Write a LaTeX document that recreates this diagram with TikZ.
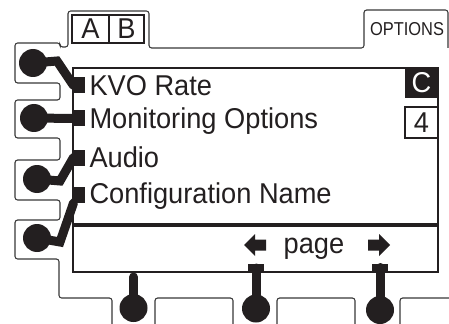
\documentclass[tikz,border=0pt]{standalone}
\usepackage{fontspec}
\setmainfont{Liberation Sans}
\newfontfamily\narrowsans{Liberation Sans}[FakeStretch=0.95]
\newfontfamily\tabsans{Liberation Sans}[FakeStretch=0.88]
\usetikzlibrary{positioning}
\definecolor{ink}{RGB}{35,31,32}
\definecolor{rim}{RGB}{55,55,55}
\tikzset{every picture/.style={line width=0.75pt}}
\tikzset{
  rim/.style={draw=rim, line width=0.8pt, rounded corners=2pt},
  knob/.style={circle, fill=ink, inner sep=0pt, minimum size=21pt},
  pad/.style={fill=ink, inner sep=0pt, minimum width=8.25pt, minimum height=12pt},
  bar/.style={fill=ink, inner sep=0pt, minimum width=12pt, minimum height=6pt},
  arm/.style={draw=ink, line width=6.75pt, line cap=round},
  txt/.style={font=\narrowsans\fontsize{21.5}{25}\selectfont, text=ink, inner sep=0pt},
  smalltxt/.style={font=\tabsans\fontsize{14}{16}\selectfont, text=ink, inner sep=0pt}
}

\begin{document}
\begin{tikzpicture}[x=0.75pt,y=0.75pt,yscale=-1,xscale=1]
\useasboundingbox (0,0) rectangle (449,324);

%Shape: Bezel outline with tabs
\draw[rim] (448,48) -- (448,10) -- (364,10) -- (364,48) -- (149,48) -- (149,11) -- (68,11) -- (68,47) -- (60,47) -- (60,43) -- (15,43) -- (15,83) -- (60,83) -- (60,100) -- (15,100) -- (15,138) -- (60,138) -- (60,160) -- (15,160) -- (15,200) -- (60,200) -- (60,220) -- (15,220) -- (15,259) -- (59,259) -- (59,298) -- (112,298) -- (112,324) ;
\draw[rim] (155,324) -- (155,298) -- (233,298) -- (233,324) ;
\draw[rim] (277,324) -- (277,298) -- (355,298) -- (355,324) ;
\draw[rim] (400,324) -- (400,298) -- (449,298) ;

%Shape: Rectangle (screen)
\draw[ink, line width=1pt] (73,68) rectangle (438,272) ;
%Straight Lines
\draw[ink, line width=2.5pt] (73,225) -- (438,225) ;

%Shape: Rectangle (A B)
\draw[ink, line width=0.9pt] (72,15) rectangle (144,43) ;
\draw[ink, line width=0.9pt] (109,15) -- (109,43) ;
%Shape: Rectangle (C)
\fill[ink] (405,68) rectangle (438,98) ;
%Shape: Rectangle (4)
\draw[ink, line width=1pt] (405,107) rectangle (438,138) ;

%Left knobs
\node[knob] (b1) at (33,63) {};
\node[knob] (b2) at (34,118) {};
\node[knob] (b3) at (37,179) {};
\node[knob] (b4) at (37,238) {};
\node[pad] (s1) at (79.5,85.5) {};
\node[pad] (s2) at (79.5,118.5) {};
\node[pad] (s3) at (79.5,157.5) {};
\node[pad] (s4) at (79.5,194.5) {};
\coordinate (k1) at (57,61);
\coordinate (k3) at (60,181);
\coordinate (k4) at (60,242);
\draw[arm] (b1.center) -- (k1) -- (s1.west) ;
\draw[arm] (b2.center) -- (s2.west) ;
\draw[arm] (b3.center) -- (k3) -- (s3.west) ;
\draw[arm] (b4.center) -- (k4) -- (s4.south west) ;

%Bottom knobs
\node[knob] (c1) at (133.5,308) {};
\node[knob] (c2) at (256,308.5) {};
\node[knob] (c3) at (380,310) {};
\node[bar] (p2) at (256,268) {};
\node[bar] (p3) at (380,267.5) {};
\coordinate (t1) at (133.5,277);
\draw[arm] (c1.center) -- (t1) ;
\draw[arm] (c2.center) -- (p2.center) ;
\draw[arm] (c3.center) -- (p3.center) ;

%Shape: Arrows
\fill[ink] (244,245) -- (255,234) -- (255,239.5) -- (266,239.5) -- (266,250.5) -- (255,250.5) -- (255,256) -- cycle ;
\fill[ink] (390,245) -- (379,234) -- (379,239.5) -- (368,239.5) -- (368,250.5) -- (379,250.5) -- (379,256) -- cycle ;

% Text Node
\node[txt, anchor=base west] (kvo) at (89,95.5) {KVO Rate};
% Text Node
\node[txt, anchor=base west] (mon) at (89,128.5) {Monitoring Options};
% Text Node
\node[txt, anchor=base west] (aud) at (89,167.5) {Audio};
% Text Node
\node[txt, anchor=base west] (cfg) at (89,203) {Configuration Name};
% Text Node
\node[txt, anchor=base] (page) at (314,253) {page};
% Text Node
\node[txt, text=white] (lc) at (421.5,83) {C};
% Text Node
\node[txt] (l4) at (421.5,123) {4};
% Text Node
\node[txt] (la) at (90.5,29) {A};
% Text Node
\node[txt] (lb) at (126.5,29) {B};
% Text Node
\node[smalltxt] (opt) at (407,29.5) {OPTIONS};
\end{tikzpicture}
\end{document}
